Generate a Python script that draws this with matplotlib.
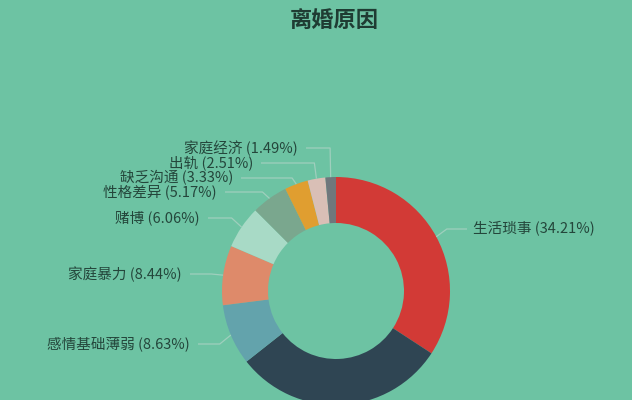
import numpy as np
import matplotlib
matplotlib.use("Agg")
import matplotlib.pyplot as plt

plt.rcParams['font.family'] = ['Noto Sans CJK SC', 'DejaVu Sans']

# Data (clockwise from 12 o'clock)
reasons = ['生活琐事', '', '感情基础薄弱', '家庭暴力', '赌博',
           '性格差异', '缺乏沟通', '出轨', '家庭经济']
shares = [34.21, 30.16, 8.63, 8.44, 6.06, 5.17, 3.33, 2.51, 1.49]
colors = ['#d23a36', '#2f4553', '#63a3ac', '#de8a6a', '#a8dac6',
          '#7aa78e', '#e09e30', '#d9bfb6', '#6f777c']

# label anchors in pixel coords (x = text edge nearest to the ring, y from top)
label_pos = [(473, 229), None, (190, 344), (182, 274), (200, 218),
             (217, 192), (233, 178), (253, 163), (298, 148)]

bg = '#6dc3a3'
text_col = '#24463b'
line_col = '#9fcfbd'

W, H = 632, 400
fig = plt.figure(figsize=(W / 100, H / 100), dpi=100, facecolor=bg)
ax = fig.add_axes([0, 0, 1, 1])
ax.set_facecolor(bg)

cx, cy = 336, H - 291
R, r_in = 114, 68

wedges, _ = ax.pie(shares, colors=colors, startangle=90, counterclock=False,
                   radius=R, center=(cx, cy), frame=True,
                   wedgeprops=dict(width=R - r_in, linewidth=0))
ax.set_xlim(0, W)
ax.set_ylim(0, H)
ax.set_aspect('equal')
ax.axis('off')

total = sum(shares)
start = 90.0
for name, val, pos in zip(reasons, shares, label_pos):
    span = val / total * 360
    mid = np.deg2rad(start - span / 2)
    start -= span
    if pos is None or not name:
        continue
    tx, ty = pos[0], H - pos[1]
    x0, y0 = cx + R * np.cos(mid), cy + R * np.sin(mid)
    x1 = cx + (R + 12) * np.cos(mid)
    left = x0 < cx
    xe = tx + 8 if left else tx - 6
    ax.plot([x0, x1, xe], [y0, ty, ty], color=line_col, lw=0.9,
            solid_capstyle='butt')
    ax.text(tx, ty, f'{name} ({val:.2f}%)', fontsize=10.5, color=text_col,
            ha='right' if left else 'left', va='center')

ax.text(334, H - 20, '离婚原因', fontsize=16, fontweight='bold',
        color='#1f3c33', ha='center', va='center')

fig.savefig('out.png', dpi=100, facecolor=bg)
